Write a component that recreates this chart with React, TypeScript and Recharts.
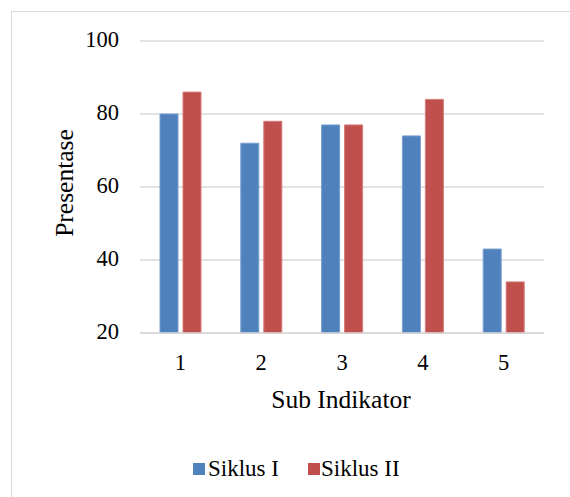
import React from 'react';
import { BarChart, Bar, XAxis, YAxis, CartesianGrid, Label } from 'recharts';

const CATEGORIES = ['1', '2', '3', '4', '5'];
const SIKLUS_I = [80, 72, 77, 74, 43];
const SIKLUS_II = [86, 78, 77, 84, 34];
const Y_TICKS = [20, 40, 60, 80, 100];

const BLUE = '#4F81BD';
const RED = '#C0504D';
const FONT = '"Liberation Serif", "Times New Roman", serif';

const data = CATEGORIES.map((name, i) => ({
  name,
  s1: SIKLUS_I[i],
  s2: SIKLUS_II[i],
}));

const App: React.FC = () => {
  return (
    <div style={{ position: 'fixed', top: 0, left: 0, width: 570, height: 497, background: '#fff', fontFamily: FONT, overflow: 'hidden' }}>
      <div style={{ position: 'absolute', left: 11, top: 11, right: 0, bottom: 0, borderLeft: '1.5px solid #d9d9d9', borderTop: '1.5px solid #d9d9d9' }} />
      <BarChart
        width={570}
        height={497}
        data={data}
        margin={{ top: 41, right: 26, left: 0, bottom: 89 }}
        barSize={18}
        barGap={5}
        style={{ position: 'absolute', left: 0, top: 0 }}
      >
        <CartesianGrid vertical={false} stroke="#d9d9d9" strokeWidth={1.5} />
        <XAxis
          dataKey="name"
          height={75}
          axisLine={{ stroke: '#d9d9d9', strokeWidth: 1.5 }}
          tickLine={false}
          tickMargin={15}
          tick={{ fill: '#000', fontSize: 22.5, fontFamily: FONT }}
        >
          <Label
            content={() => (
              <text x={341} y={408} textAnchor="middle" fill="#000" fontSize={25.5} fontFamily={FONT}>
                Sub Indikator
              </text>
            )}
          />
        </XAxis>
        <YAxis
          width={140}
          domain={[20, 100]}
          ticks={Y_TICKS}
          axisLine={false}
          tickLine={false}
          tickMargin={15}
          tick={{ fill: '#000', fontSize: 22.5, fontFamily: FONT, dy: -2 }}
        >
          <Label
            content={() => (
              <text x={73} y={183} transform="rotate(-90 73 183)" textAnchor="middle" fill="#000" fontSize={25.5} fontFamily={FONT}>
                Presentase
              </text>
            )}
          />
        </YAxis>
        <Bar dataKey="s1" name="Siklus I" fill={BLUE} stroke="#7a9fd0" strokeWidth={1} isAnimationActive={false} />
        <Bar dataKey="s2" name="Siklus II" fill={RED} stroke="#d57a77" strokeWidth={1} isAnimationActive={false} />
      </BarChart>
      <div style={{ position: 'absolute', left: 193, top: 463, width: 12, height: 12, background: BLUE }} />
      <div style={{ position: 'absolute', left: 208, top: 456, fontSize: 23, lineHeight: '26px', color: '#000', whiteSpace: 'nowrap' }}>Siklus I</div>
      <div style={{ position: 'absolute', left: 308, top: 463, width: 12, height: 12, background: RED }} />
      <div style={{ position: 'absolute', left: 321, top: 456, fontSize: 23, lineHeight: '26px', color: '#000', whiteSpace: 'nowrap' }}>Siklus II</div>
    </div>
  );
};

export default App;
